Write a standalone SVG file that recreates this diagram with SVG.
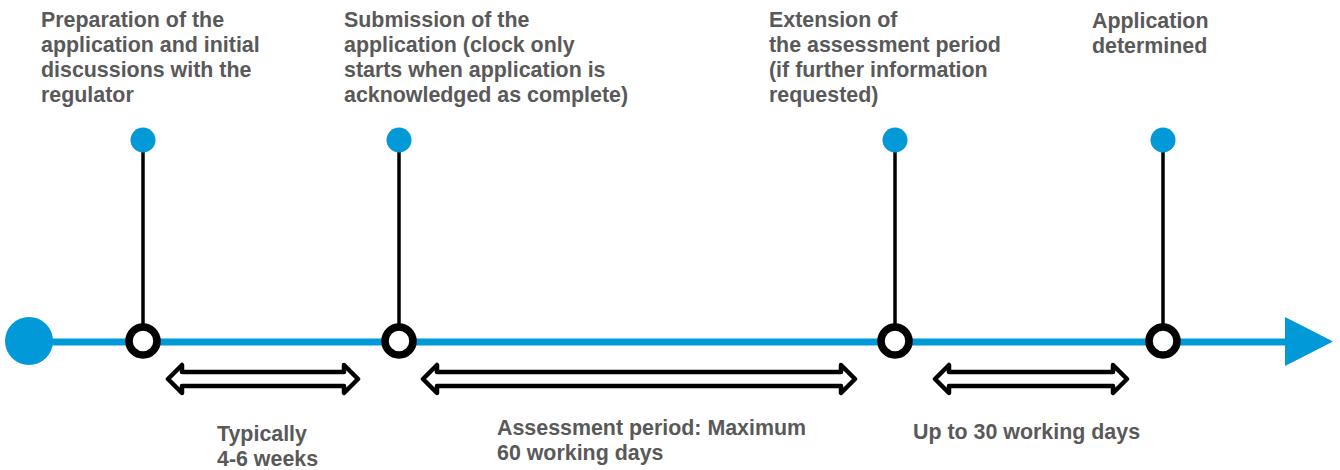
<svg xmlns="http://www.w3.org/2000/svg" width="1340" height="470" viewBox="0 0 1340 470">
<style>
text{font-family:"Liberation Sans",Arial,sans-serif;font-weight:bold;font-size:21.4px;fill:#595959}
.stem{stroke:#000;stroke-width:3.5}
.dot{fill:#0199D8}
.ring{fill:#fff;stroke:#000;stroke-width:7.5}
.span{fill:#fff;stroke:#000;stroke-width:4.5;stroke-linejoin:round}
</style>
<rect width="1340" height="470" fill="#fff"/>
<g id="connectors">
<line x1="40" y1="342" x2="1292" y2="342" stroke="#0199D8" stroke-width="7"/>
<polygon points="1285,317 1333,341.5 1285,366" fill="#0199D8"/>
<line class="stem" x1="143" y1="140" x2="143" y2="330"/>
<line class="stem" x1="399" y1="140" x2="399" y2="330"/>
<line class="stem" x1="895" y1="140" x2="895" y2="330"/>
<line class="stem" x1="1163" y1="140" x2="1163" y2="330"/>
<path class="span" d="M168,379 L182,365 L182,372 L344,372 L344,365 L358,379 L344,393 L344,386 L182,386 L182,393 Z"/>
<path class="span" d="M423,379 L437,365 L437,372 L841,372 L841,365 L855,379 L841,393 L841,386 L437,386 L437,393 Z"/>
<path class="span" d="M935,379 L949,365 L949,372 L1113,372 L1113,365 L1127,379 L1113,393 L1113,386 L949,386 L949,393 Z"/>
</g>
<g id="start"><circle class="dot" cx="29" cy="341" r="24"/></g>
<g id="node1">
<circle class="dot" cx="143" cy="140" r="12.5"/>
<circle class="ring" cx="143" cy="341" r="14"/>
<text x="41" y="26.5">Preparation of the<tspan x="41" y="51.8">application and initial</tspan><tspan x="41" y="77.1">discussions with the</tspan><tspan x="41" y="102.4">regulator</tspan></text>
</g>
<g id="node2">
<circle class="dot" cx="399" cy="140" r="12.5"/>
<circle class="ring" cx="399" cy="341" r="14"/>
<text x="344" y="26.5">Submission of the<tspan x="344" y="51.8">application (clock only</tspan><tspan x="344" y="77.1">starts when application is</tspan><tspan x="344" y="102.4">acknowledged as complete)</tspan></text>
</g>
<g id="node3">
<circle class="dot" cx="895" cy="140" r="12.5"/>
<circle class="ring" cx="895" cy="341" r="14"/>
<text x="769" y="26.5">Extension of<tspan x="769" y="51.8">the assessment period</tspan><tspan x="769" y="77.1">(if further information</tspan><tspan x="769" y="102.4">requested)</tspan></text>
</g>
<g id="node4">
<circle class="dot" cx="1163" cy="140" r="12.5"/>
<circle class="ring" cx="1163" cy="341" r="14"/>
<text x="1092" y="27.5">Application<tspan x="1092" y="52.8">determined</tspan></text>
</g>
<g id="labels">
<text x="217" y="441">Typically<tspan x="217" y="466">4-6 weeks</tspan></text>
<text x="497" y="435">Assessment period: Maximum<tspan x="497" y="460">60 working days</tspan></text>
<text x="913" y="439">Up to 30 working days</text>
</g>
</svg>
